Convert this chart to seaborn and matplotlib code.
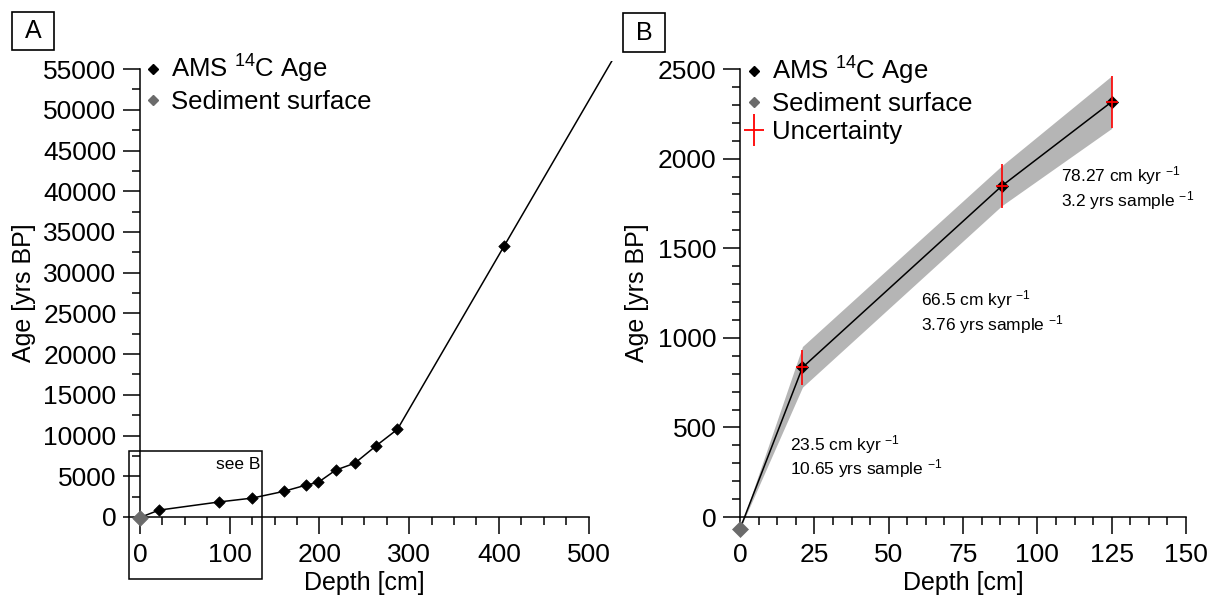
import matplotlib
matplotlib.use("Agg")
import matplotlib.pyplot as plt
from matplotlib.lines import Line2D
from matplotlib.patches import Rectangle
from matplotlib.ticker import FixedLocator
from matplotlib.legend_handler import HandlerTuple
import numpy as np
import pandas as pd
import seaborn as sns

# AMS 14C dated horizons: depth [cm] and age [yrs BP]
ams_depth = [21, 88, 125, 160, 185, 198.5, 218, 239.5, 263.5, 287, 406]
ams_age = [840, 1845, 2320, 3140, 3915, 4240, 5750, 6610, 8770, 10770, 33290]

# Core top (sediment surface)
surface_depth = [0]
surface_age = [-65]

# Upper core section shown enlarged in panel B
top_depth = [21, 88, 125]
top_age = [835, 1847, 2317]
top_err = [100, 125, 146]

# Age-model envelope for the upper section
band_depth = [0, 21, 88, 125]
band_lower = [-65, 725, 1737, 2169]
band_upper = [-65, 952, 1960, 2462]

# Sedimentation rates and temporal resolution per segment
rate_labels = [
    "23.5 cm kyr $^{-1}$\n10.65 yrs sample $^{-1}$",
    "66.5 cm kyr $^{-1}$\n3.76 yrs sample $^{-1}$",
    "78.27 cm kyr $^{-1}$\n3.2 yrs sample $^{-1}$",
]

sns.set_theme(style="ticks")
plt.rcParams["font.family"] = ["Liberation Sans", "DejaVu Sans"]
plt.rcParams["mathtext.fontset"] = "custom"
plt.rcParams["mathtext.rm"] = "Liberation Sans"
plt.rcParams["mathtext.it"] = "Liberation Sans:italic"
plt.rcParams["mathtext.bf"] = "Liberation Sans:bold"
for key in ("text.color", "axes.labelcolor", "xtick.color", "ytick.color",
            "axes.edgecolor"):
    plt.rcParams[key] = "black"

SURF_GREY = "#6b6b6b"
BAND_GREY = "#b5b5b5"
FS_TICK = 19
FS_LABEL = 18
FS_LEG = 18.5

fig = plt.figure(figsize=(12.10, 5.99), dpi=100)
axA = fig.add_axes([0.1157, 0.1369, 0.3907, 0.7613])
axB = fig.add_axes([0.6116, 0.1068, 0.3686, 0.7780])


def style_axis(ax):
    for side in ("top", "right"):
        ax.spines[side].set_visible(False)
    for side in ("left", "bottom"):
        ax.spines[side].set_linewidth(1.1)
        ax.spines[side].set_color("black")
    ax.tick_params(which="major", direction="out", length=12, width=1.1,
                   colors="black", labelsize=FS_TICK)
    ax.tick_params(which="minor", direction="out", length=6, width=1.1,
                   colors="black")
    ax.tick_params(axis="x", which="major", pad=7)
    ax.tick_params(axis="y", which="major", pad=5)
    ax.set_facecolor("white")
    ax.grid(False)


# ---------------- Panel A: full age-depth model ----------------
model_depth = surface_depth + ams_depth
model_age = surface_age + ams_age
# extend the deepest segment to the edge of the plotting area
slope = (ams_age[-1] - ams_age[-2]) / (ams_depth[-1] - ams_depth[-2])
x_end = 560
model_depth = model_depth + [x_end]
model_age = model_age + [ams_age[-1] + slope * (x_end - ams_depth[-1])]

dfA = pd.DataFrame({"depth": model_depth, "age": model_age})
sns.lineplot(data=dfA, x="depth", y="age", ax=axA, color="black", lw=1.1,
             sort=False, estimator=None, zorder=2)
sns.scatterplot(x=ams_depth, y=ams_age, ax=axA, marker="D", s=34,
                color="black", edgecolor="black", linewidth=0.5, zorder=4,
                clip_on=False)
sns.scatterplot(x=surface_depth, y=surface_age, ax=axA, marker="D", s=62,
                color=SURF_GREY, edgecolor=SURF_GREY, linewidth=0.5, zorder=5,
                clip_on=False)

axA.set_xlim(0, 527)
axA.set_ylim(0, 56000)
style_axis(axA)
axA.spines["left"].set_bounds(0, 55000)
axA.spines["bottom"].set_bounds(0, 500)
axA.xaxis.set_major_locator(FixedLocator(np.arange(0, 501, 100)))
axA.xaxis.set_minor_locator(FixedLocator(np.arange(0, 501, 25)))
axA.yaxis.set_major_locator(FixedLocator(np.arange(0, 55001, 5000)))
axA.yaxis.set_minor_locator(FixedLocator(np.arange(0, 55001, 2500)))

# frame marking the section enlarged in panel B
axA.add_patch(Rectangle((-12.4, -7600), 148.3, 15680, fill=False,
                        edgecolor="black", lw=1.1, clip_on=False, zorder=3))
axA.text(134, 6450, "see B", ha="right", va="center", fontsize=12.5)

axA.set_xlabel("Depth [cm]", fontsize=FS_LABEL)
axA.set_ylabel("Age [yrs BP]", fontsize=FS_LABEL)
axA.xaxis.set_label_coords(250 / 527, -0.118)
axA.yaxis.set_label_coords(-0.22, 0.491)

handles_A = [
    Line2D([], [], marker="D", color="black", ls="none", ms=5),
    Line2D([], [], marker="D", color=SURF_GREY, ls="none", ms=5),
]
axA.legend(handles_A, ["AMS $^{14}$C Age", "Sediment surface"],
           loc="upper left", bbox_to_anchor=(0.004, 1.018), frameon=False,
           fontsize=FS_LEG, handlelength=0.9, handletextpad=0.25,
           labelspacing=0.18, borderpad=0, borderaxespad=0)

# ---------------- Panel B: upper core section ----------------
axB.fill_between(band_depth, band_lower, band_upper, color=BAND_GREY,
                 lw=0, zorder=1)
dfB = pd.DataFrame({"depth": surface_depth + top_depth,
                    "age": surface_age + top_age})
sns.lineplot(data=dfB, x="depth", y="age", ax=axB, color="black", lw=1.1,
             sort=False, estimator=None, zorder=2)
sns.scatterplot(x=top_depth, y=top_age, ax=axB, marker="D", s=38,
                color="black", edgecolor="black", linewidth=0.5, zorder=4)
sns.scatterplot(x=surface_depth, y=surface_age, ax=axB, marker="D", s=66,
                color=SURF_GREY, edgecolor=SURF_GREY, linewidth=0.5, zorder=5,
                clip_on=False)
axB.errorbar(top_depth, top_age, yerr=top_err, fmt="none", ecolor="red",
             elinewidth=1.2, capsize=0, zorder=6)
axB.plot(top_depth, top_age, ls="none", marker="_", ms=8, mew=1.3,
         color="red", zorder=7)

axB.set_xlim(0, 150)
axB.set_ylim(-100, 2500)
style_axis(axB)
axB.spines["bottom"].set_position(("data", 0))
axB.spines["left"].set_bounds(0, 2500)
axB.spines["bottom"].set_bounds(0, 150)
axB.xaxis.set_major_locator(FixedLocator(np.arange(0, 151, 25)))
axB.xaxis.set_minor_locator(FixedLocator(np.arange(0, 150.1, 6.25)))
axB.yaxis.set_major_locator(FixedLocator(np.arange(0, 2501, 500)))
axB.yaxis.set_minor_locator(FixedLocator(np.arange(0, 2501, 100)))

for label, (tx, ty) in zip(rate_labels, [(16.8, 337), (61.0, 1144), (107.8, 1836)]):
    axB.text(tx, ty, label, ha="left", va="center", fontsize=12.5,
             linespacing=1.1, zorder=8)

axB.set_xlabel("Depth [cm]", fontsize=FS_LABEL)
axB.set_ylabel("Age [yrs BP]", fontsize=FS_LABEL)
axB.xaxis.set_label_coords(0.5, -0.077)
axB.yaxis.set_label_coords(-0.205, 0.519)

unc_handle = (Line2D([], [], marker="|", color="red", ls="none", ms=23, mew=1.3),
              Line2D([], [], marker="_", color="red", ls="none", ms=15, mew=1.3))
handles_B = [
    Line2D([], [], marker="D", color="black", ls="none", ms=5),
    Line2D([], [], marker="D", color=SURF_GREY, ls="none", ms=5),
    unc_handle,
]
axB.legend(handles_B, ["AMS $^{14}$C Age", "Sediment surface", "Uncertainty"],
           loc="upper left", bbox_to_anchor=(0.006, 1.03), frameon=False,
           fontsize=FS_LEG, handlelength=0.9, handletextpad=0.25,
           labelspacing=0.18, borderpad=0, borderaxespad=0,
           handler_map={tuple: HandlerTuple(ndivide=1, pad=0)})

# panel letters
for letter, (x0, y0, w, h) in zip(["A", "B"], [(12, 12, 42, 38), (623, 13, 42, 39)]):
    fig.add_artist(Rectangle((x0 / 1210, 1 - (y0 + h) / 599), w / 1210, h / 599,
                             transform=fig.transFigure, fill=False,
                             edgecolor="black", lw=1.2))
    fig.text((x0 + w / 2) / 1210, 1 - (y0 + h / 2) / 599, letter,
             ha="center", va="center", fontsize=18)

fig.savefig("out.png", dpi=100, facecolor="white")
